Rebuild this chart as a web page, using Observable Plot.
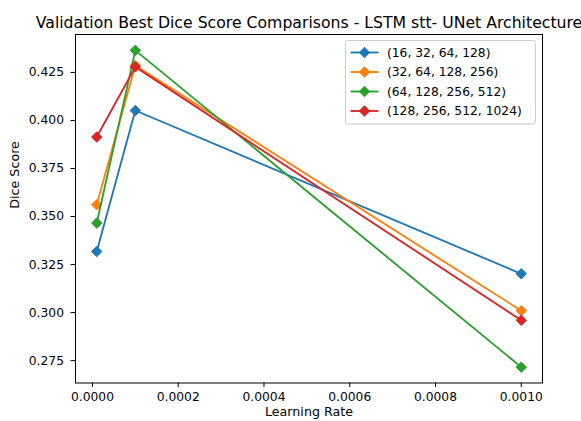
<!DOCTYPE html>
<html>
<head>
<meta charset="utf-8">
<script src="https://cdn.jsdelivr.net/npm/d3@7"></script>
<script src="https://cdn.jsdelivr.net/npm/@observablehq/plot@0.6"></script>
<style>
  html, body { margin: 0; padding: 0; background: #fff; }
  svg { font-family: "DejaVu Sans", sans-serif; }
</style>
</head>
<body>
<div id="chart"></div>
<script>
// Learning rates tried for each encoder channel configuration
const learningRates = [0.00001, 0.0001, 0.001];

// Channel configurations (legend labels) and their colours
const configs = ["(16, 32, 64, 128)", "(32, 64, 128, 256)", "(64, 128, 256, 512)", "(128, 256, 512, 1024)"];
const colors = ["#1f77b4", "#ff7f0e", "#2ca02c", "#d62728"];

// Best validation Dice score per configuration, one value per learning rate
const dice16 = [0.3318, 0.4052, 0.3202];
const dice32 = [0.3561, 0.4286, 0.3010];
const dice64 = [0.3466, 0.4365, 0.2716];
const dice128 = [0.3914, 0.4279, 0.2960];

// Axis ticks
const xTicks = [0, 0.0002, 0.0004, 0.0006, 0.0008, 0.001];
const yTicks = [0.275, 0.3, 0.325, 0.35, 0.375, 0.4, 0.425];

const seriesValues = [dice16, dice32, dice64, dice128];
const rows = configs.flatMap((config, i) =>
  learningRates.map((lr, j) => ({config, lr, dice: seriesValues[i][j]}))
);

// Pad the domains by 5% of the data range on each side
const pad = (lo, hi) => [lo - 0.05 * (hi - lo), hi + 0.05 * (hi - lo)];
const xDomain = pad(d3.min(learningRates), d3.max(learningRates));
const allDice = seriesValues.flat();
const yDomain = pad(d3.min(allDice), d3.max(allDice));

const markerR = 4.7;

// One line followed by its diamonds for each configuration, drawn in order
const seriesMarks = configs.flatMap((config) => {
  const data = rows.filter((d) => d.config === config);
  return [
    Plot.line(data, {x: "lr", y: "dice", stroke: "config", strokeWidth: 1.85}),
    Plot.dot(data, {x: "lr", y: "dice", symbol: "diamond2", r: markerR, fill: "config", stroke: "config", strokeWidth: 1})
  ];
});

const chart = Plot.plot({
  width: 581,
  height: 421,
  marginLeft: 75,
  marginRight: 39,
  marginTop: 34,
  marginBottom: 38.5,
  style: {fontFamily: "DejaVu Sans, sans-serif", fontSize: "12.3px", color: "#000", background: "#fff"},
  x: {domain: xDomain},
  y: {domain: yDomain},
  color: {domain: configs, range: colors},
  marks: [
    ...seriesMarks,
    Plot.frame({stroke: "#000", strokeWidth: 1}),
    Plot.axisX({ticks: xTicks, tickFormat: d3.format(".4f"), tickSize: 4.5, tickPadding: 4.5, label: null, stroke: "#000", fontSize: 12.3}),
    Plot.axisY({ticks: yTicks, tickFormat: d3.format(".3f"), tickSize: 4.5, tickPadding: 7, label: null, stroke: "#000", fontSize: 12.3}),
    Plot.text(["Validation Best Dice Score Comparisons - LSTM stt- UNet Architecture"], {frameAnchor: "top", lineAnchor: "bottom", dy: -7, fontSize: 15.7, fill: "#000"}),
    Plot.text(["Learning Rate"], {frameAnchor: "bottom", lineAnchor: "top", dy: 23.5, fontSize: 12.7, fill: "#000"}),
    Plot.text(["Dice Score"], {frameAnchor: "left", rotate: -90, lineAnchor: "bottom", dx: -57, fontSize: 12.7, fill: "#000"})
  ]
});

// Legend box in the upper right corner of the axes
const svg = d3.select(chart);
const legend = svg.append("g").attr("transform", "translate(345.5,40.5)");
legend.append("rect")
  .attr("width", 190).attr("height", 83.5).attr("rx", 3)
  .attr("fill", "#fff").attr("fill-opacity", 0.8)
  .attr("stroke", "#cccccc").attr("stroke-width", 1);
const entry = legend.selectAll("g.entry").data(configs).join("g")
  .attr("class", "entry")
  .attr("transform", (d, i) => `translate(0,${12 + i * 19.5})`);
entry.append("line")
  .attr("x1", 5).attr("x2", 33).attr("y1", 0).attr("y2", 0)
  .attr("stroke", (d, i) => colors[i]).attr("stroke-width", 1.85);
entry.append("path")
  .attr("transform", "translate(19,0)")
  .attr("d", d3.symbol(d3.symbolDiamond2, Math.PI * markerR * markerR))
  .attr("fill", (d, i) => colors[i]).attr("stroke", (d, i) => colors[i]);
entry.append("text")
  .attr("x", 41.5).attr("y", 0).attr("dy", "0.35em")
  .attr("text-anchor", "start")
  .attr("font-size", 12.3).attr("fill", "#000")
  .text((d) => d);

document.getElementById("chart").appendChild(chart);
</script>
</body>
</html>
